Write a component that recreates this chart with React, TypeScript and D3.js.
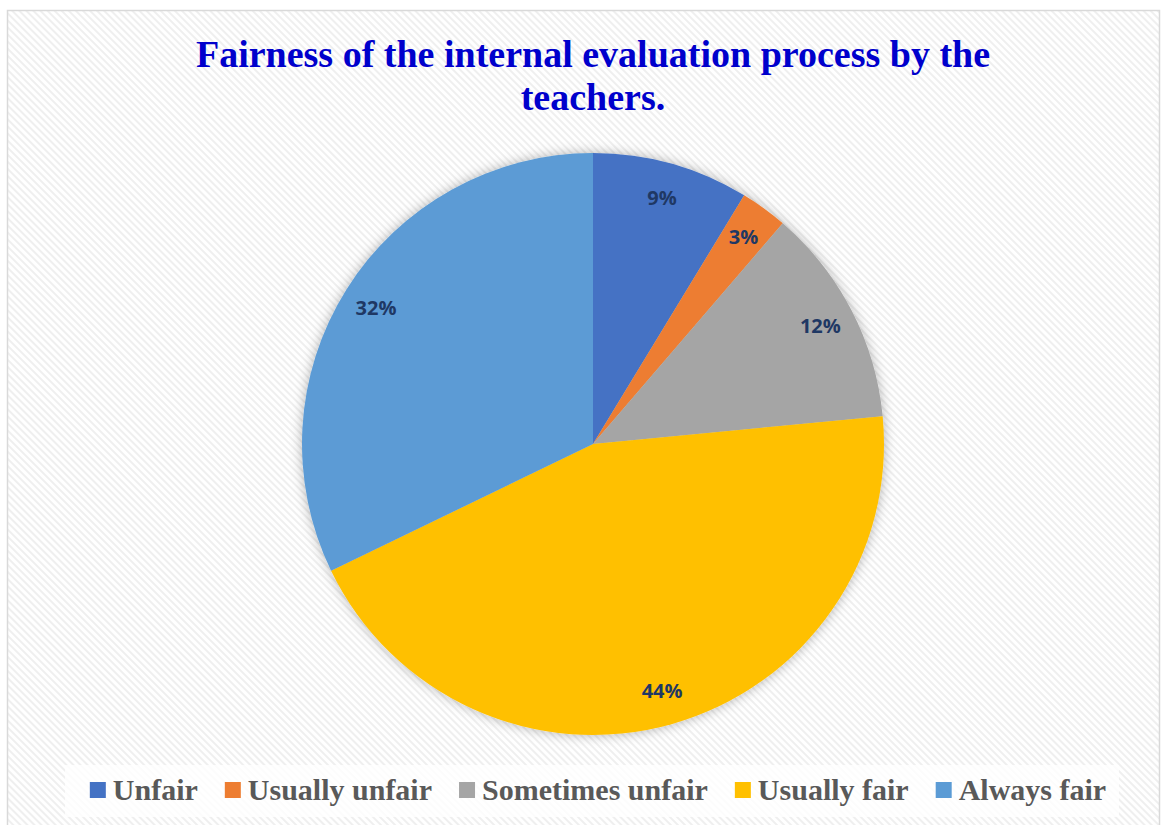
import React, { useEffect, useRef } from "react";
import * as d3 from "d3";

const categories = ["Unfair", "Usually unfair", "Sometimes unfair", "Usually fair", "Always fair"];
const counts = [10, 3, 14, 51, 37];
const colors = ["#4472C4", "#ED7D31", "#A5A5A5", "#FFC000", "#5B9BD5"];
const titleLines = ["Fairness of the internal evaluation process by the", "teachers."];

const W = 1167;
const H = 825;

export default function App() {
  const ref = useRef<SVGSVGElement | null>(null);

  useEffect(() => {
    const svg = d3.select(ref.current);
    svg.selectAll("*").remove();

    const defs = svg.append("defs");
    const pat = defs
      .append("pattern")
      .attr("id", "hatch")
      .attr("patternUnits", "userSpaceOnUse")
      .attr("width", 5)
      .attr("height", 5)
      .attr("patternTransform", "rotate(-45)");
    pat.append("rect").attr("width", 5).attr("height", 5).attr("fill", "#ffffff");
    pat.append("rect").attr("x", 0).attr("width", 2).attr("height", 5).attr("fill", "#efefef");

    const f = defs.append("filter").attr("id", "shadow").attr("x", "-20%").attr("y", "-20%").attr("width", "140%").attr("height", "140%");
    f.append("feDropShadow").attr("dx", 0).attr("dy", 0).attr("stdDeviation", 6).attr("flood-color", "#000").attr("flood-opacity", 0.3);

    svg.append("rect").attr("x", 0).attr("y", 0).attr("width", W).attr("height", H).attr("fill", "#ffffff");
    svg
      .append("rect")
      .attr("x", 7.5)
      .attr("y", 10.5)
      .attr("width", 1152)
      .attr("height", 830)
      .attr("fill", "url(#hatch)")
      .attr("stroke", "#d9d9d9")
      .attr("stroke-width", 1.5);

    // title
    const title = svg
      .append("text")
      .attr("text-anchor", "middle")
      .attr("font-family", "'Liberation Serif', 'Times New Roman', serif")
      .attr("font-weight", "bold")
      .attr("font-size", 38)
      .attr("fill", "#0000CC");
    titleLines.forEach((t, i) => {
      title.append("tspan").attr("x", 593).attr("y", 67 + i * 43).text(t);
    });

    // pie
    const cx = 593,
      cy = 444,
      r = 291;
    const total = d3.sum(counts);
    const pie = d3.pie<number>().sort(null).value((d) => d);
    const arcs = pie(counts);
    const arc = d3.arc<d3.PieArcDatum<number>>().innerRadius(0).outerRadius(r);
    const labelArc = d3.arc<d3.PieArcDatum<number>>().innerRadius(r * 0.88).outerRadius(r * 0.88);

    const g = svg.append("g").attr("transform", `translate(${cx},${cy})`);
    const slices = g.append("g").attr("filter", "url(#shadow)");
    slices
      .selectAll("path")
      .data(arcs)
      .join("path")
      .attr("d", arc)
      .attr("fill", (_, i) => colors[i]);

    g.selectAll("text.lbl")
      .data(arcs)
      .join("text")
      .attr("class", "lbl")
      .attr("transform", (d) => `translate(${labelArc.centroid(d)})`)
      .attr("text-anchor", "middle")
      .attr("dy", "0.36em")
      .attr("font-family", "'Open Sans', sans-serif")
      .attr("font-weight", 700)
      .attr("font-size", 20)
      .attr("fill", "#1F3864")
      .text((d) => `${Math.round((d.value / total) * 100)}%`);

    // legend
    const lg = svg.append("g");
    lg.append("rect")
      .attr("x", 65)
      .attr("y", 765)
      .attr("width", 1054)
      .attr("height", 52)
      .attr("fill", "#ffffff")
      .attr("fill-opacity", 0.8);
    const items = lg.append("g");
    const sq = 16,
      sqGap = 7,
      itemGap = 27;
    let x = 0;
    categories.forEach((c, i) => {
      const it = items.append("g");
      it.append("rect").attr("x", x).attr("y", 782).attr("width", sq).attr("height", sq).attr("fill", colors[i]);
      const t = it
        .append("text")
        .attr("x", x + sq + sqGap)
        .attr("y", 800)
        .attr("font-family", "'Liberation Serif', 'Times New Roman', serif")
        .attr("font-weight", "bold")
        .attr("font-size", 30)
        .attr("fill", "#595959")
        .text(c);
      const w = (t.node() as SVGTextElement).getComputedTextLength();
      x += sq + sqGap + w + itemGap;
    });
    const totalW = x - itemGap;
    items.attr("transform", `translate(${598 - totalW / 2},0)`);
  }, []);

  return (
    <svg
      ref={ref}
      width={W}
      height={H}
      style={{ position: "absolute", left: 0, top: 0, display: "block" }}
    />
  );
}
